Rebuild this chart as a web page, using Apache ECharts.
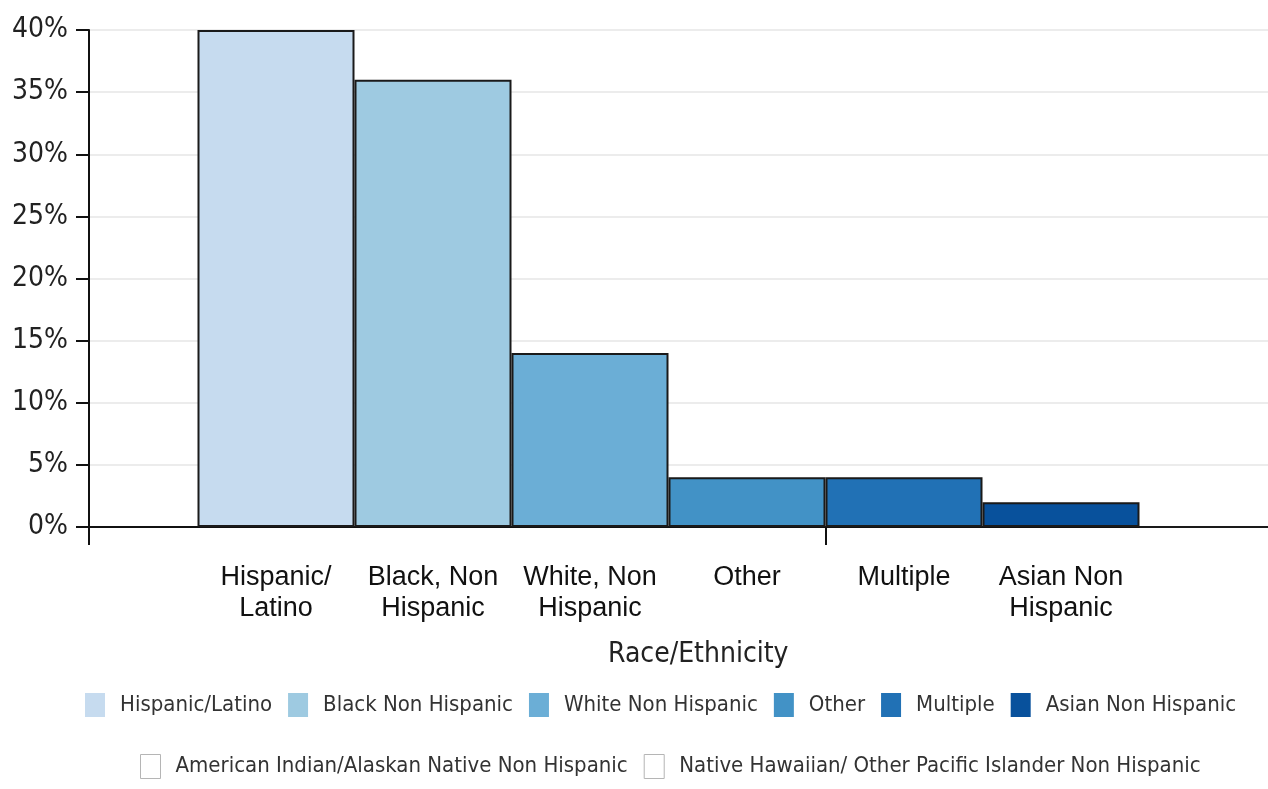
<!DOCTYPE html>
<html>
<head>
<meta charset="utf-8">
<style>
  html, body { margin: 0; padding: 0; background: #ffffff; }
  #chart { width: 1268px; height: 789px; }
</style>
<script src="https://cdn.jsdelivr.net/npm/echarts@6/dist/echarts.min.js"></script>
</head>
<body>
<div id="chart"></div>
<script>
// Share of students by race/ethnicity
const seriesNames = [
  'Hispanic/Latino',
  'Black Non Hispanic',
  'White Non Hispanic',
  'Other',
  'Multiple',
  'Asian Non Hispanic',
  'American Indian/Alaskan Native Non Hispanic',
  'Native Hawaiian/ Other Pacific Islander Non Hispanic'
];
const barLabels = [
  'Hispanic/\nLatino',
  'Black, Non\nHispanic',
  'White, Non\nHispanic',
  'Other',
  'Multiple',
  'Asian Non\nHispanic',
  '',
  ''
];
const values = [40, 36, 14, 4, 4, 2, 0, 0];
const categories = ['Race/Ethnicity'];
const yTicks = [0, 5, 10, 15, 20, 25, 30, 35, 40];

const colors = ['#c6dbef', '#9ecae1', '#6baed6', '#4292c6', '#2171b5', '#08519c', '#ffffff', '#ffffff'];
const narrow = '"DejaVu Sans Condensed", "Noto Sans", sans-serif';
const plain = '"Liberation Sans", Arial, sans-serif';

const series = seriesNames.map((name, i) => ({
  name: name,
  type: 'bar',
  xAxisIndex: 0,
  barWidth: 157,
  barGap: '0%',
  data: [values[i]],
  itemStyle: { color: colors[i], borderColor: '#1a1a1a', borderWidth: 2 },
  label: {
    show: barLabels[i] !== '',
    position: 'bottom',
    distance: 35,
    formatter: barLabels[i],
    fontFamily: plain,
    fontSize: 27,
    lineHeight: 31,
    color: '#111111',
    align: 'center'
  },
  emphasis: { disabled: true }
}));

const legendItem = (name, i) => ({
  name: name,
  itemStyle: i >= 6 ? { color: '#ffffff', borderColor: '#b5b5b5', borderWidth: 1 } : { borderWidth: 0 }
});

const legendText = { fontFamily: narrow, fontSize: 22, color: '#333333', padding: [0, 0, 0, 10] };

const option = {
  animation: false,
  backgroundColor: '#ffffff',
  // the category band runs past the right edge; its centre tick sits under the bars' middle
  grid: { left: 89, top: 30, height: 497, width: 1473, containLabel: false, outerBoundsMode: 'none' },
  legend: [
    {
      data: seriesNames.slice(0, 6).map((n, i) => legendItem(n, i)),
      left: 85, top: 693, width: 1183, padding: 0,
      itemWidth: 20, itemHeight: 24, itemGap: 16,
      icon: 'rect',
      textStyle: legendText,
      selectedMode: false
    },
    {
      data: seriesNames.slice(6).map((n, i) => legendItem(n, i + 6)),
      left: 140, top: 754, width: 1128, padding: 0,
      itemWidth: 20, itemHeight: 24, itemGap: 16,
      icon: 'rect',
      textStyle: legendText,
      selectedMode: false
    }
  ],
  graphic: [
    {
      type: 'text',
      left: 608, top: 641,
      style: { text: 'Race/Ethnicity', font: '28px ' + narrow, fill: '#222222' }
    }
  ],
  xAxis: [
    {
      type: 'category',
      data: categories,
      position: 'bottom',
      axisLine: { show: true, lineStyle: { color: '#111111', width: 2 } },
      axisTick: { show: false },
      axisLabel: { show: false }
    },
    {
      // boundary and centre ticks under the baseline
      type: 'category',
      data: ['', ''],
      position: 'bottom',
      axisLine: { show: false },
      axisTick: { show: true, length: 18, lineStyle: { color: '#111111', width: 2 } },
      axisLabel: { show: false }
    }
  ],
  yAxis: {
    type: 'value',
    min: yTicks[0],
    max: yTicks[yTicks.length - 1],
    interval: 5,
    axisLine: { show: true, lineStyle: { color: '#111111', width: 2 } },
    axisTick: { show: true, length: 13, lineStyle: { color: '#111111', width: 2 } },
    axisLabel: { formatter: '{value}%', fontFamily: narrow, fontSize: 28, color: '#222222', margin: 21 },
    splitLine: { show: true, lineStyle: { color: '#ececec', width: 2 } }
  },
  series: series
};

const chart = echarts.init(document.getElementById('chart'), null, { renderer: 'canvas' });
chart.setOption(option);
</script>
</body>
</html>
